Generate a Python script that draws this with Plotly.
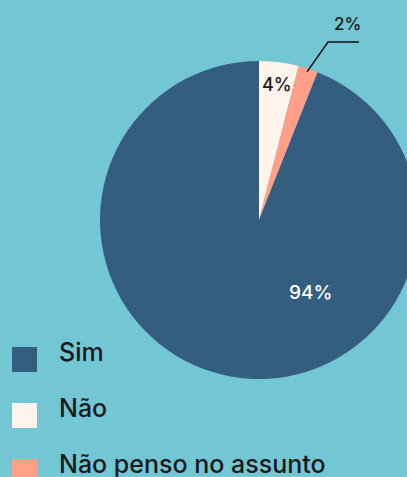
import math
import plotly.graph_objects as go

# Data
labels = ["Sim", "Não", "Não penso no assunto"]
values = [94, 4, 2]
colors = ["#345E7F", "#FFF4EC", "#FF9F87"]
pct_text = ["94%", "4%", "2%"]

# pie drawing order (clockwise from 12 o'clock)
order = [1, 2, 0]

W, H = 430, 477
BG = "#73C6D4"
FONT = "Inter"

cx, cy, r = 259, 220, 159

fig = go.Figure()
fig.add_trace(go.Pie(
    labels=[labels[i] for i in order],
    values=[values[i] for i in order],
    marker=dict(colors=[colors[i] for i in order], line=dict(width=0)),
    sort=False,
    direction="clockwise",
    rotation=0,
    textinfo="none",
    hoverinfo="label+percent",
    showlegend=False,
    domain=dict(x=[(cx - r) / W, (cx + r) / W], y=[(H - cy - r) / H, (H - cy + r) / H]),
))

def px(x, y):
    return x / W, 1 - y / H

annotations = []
shapes = []

# slice labels
def add_label(text, x, y, color, size):
    ax, ay = px(x, y)
    annotations.append(dict(text=text, x=ax, y=ay, xref="paper", yref="paper",
                            xanchor="center", yanchor="middle", showarrow=False,
                            font=dict(family=FONT, size=size, color=color, weight=500)))

add_label(pct_text[0], 310, 292, "#FFFFFF", 19)
add_label(pct_text[1], 276.5, 84.5, "#1A1A1A", 18)

# outside label for smallest slice with leader line
total = sum(values)
mid = (values[1] + values[2] / 2) / total * 2 * math.pi
sx = cx + (r - 3) * math.sin(mid)
sy = cy - (r - 3) * math.cos(mid)
ex, ey = 328, 42
hx = 359
p0, p1, p2 = px(sx, sy), px(ex, ey), px(hx, ey)
shapes.append(dict(type="path", xref="paper", yref="paper",
                   path=f"M {p0[0]} {p0[1]} L {p1[0]} {p1[1]} L {p2[0]} {p2[1]}",
                   line=dict(color="#111111", width=1.5)))
add_label(pct_text[2], 347, 24, "#1A1A1A", 17)

# legend (manual)
for i, (lab, col) in enumerate(zip(labels, colors)):
    top = 347 + 56 * i
    x0, y0 = px(12, top)
    x1, y1 = px(37, top + 25)
    shapes.append(dict(type="rect", xref="paper", yref="paper", x0=x0, x1=x1, y0=y1, y1=y0,
                       fillcolor=col, line=dict(width=0)))
    tx, ty = px(57, top + 5)
    annotations.append(dict(text=lab, x=tx, y=ty, xref="paper", yref="paper",
                            xanchor="left", yanchor="middle", showarrow=False,
                            font=dict(family=FONT, size=25, color="#1A1A1A", weight=500)))

fig.update_layout(
    width=W, height=H,
    margin=dict(l=0, r=0, t=0, b=0),
    paper_bgcolor=BG, plot_bgcolor=BG,
    annotations=annotations, shapes=shapes,
    showlegend=False,
)

fig.write_html("out.html", post_script="document.body.style.overflow='hidden';document.documentElement.style.overflow='hidden';document.body.style.margin='0';")
